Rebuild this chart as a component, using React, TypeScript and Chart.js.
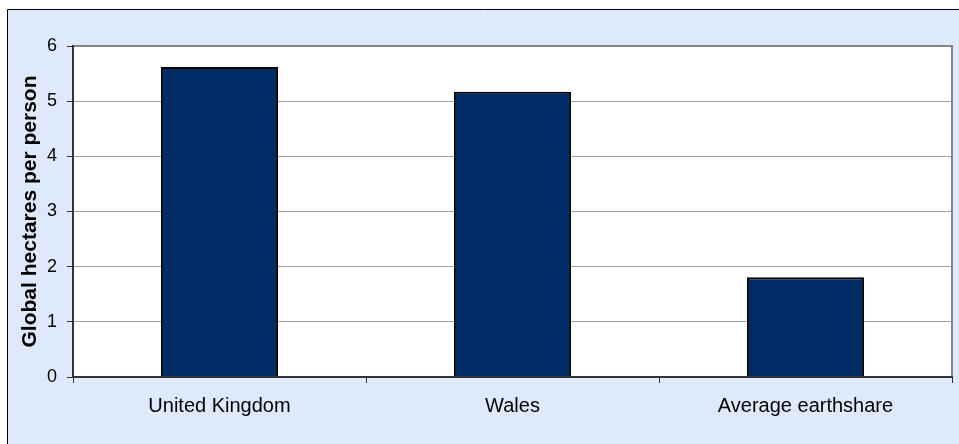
import React, { useEffect, useRef } from "react";
import { Chart, registerables } from "chart.js";

Chart.register(...registerables);

const categories = ["United Kingdom", "Wales", "Average earthshare"];
const values = [5.62, 5.17, 1.81];
const yTicks = [0, 1, 2, 3, 4, 5, 6];
const yTitle = "Global hectares per person";

const FONT = "'Liberation Sans', Arial, Helvetica, sans-serif";

const backgroundPlugin = {
  id: "bgPlugin",
  beforeDraw(chart: any) {
    const { ctx, width, height, chartArea } = chart;
    ctx.save();
    ctx.fillStyle = "#ffffff";
    ctx.fillRect(0, 0, width, height);
    ctx.fillStyle = "#DEEAFB";
    ctx.fillRect(8, 10, width - 8, height - 10);
    ctx.strokeStyle = "#000000";
    ctx.lineWidth = 1;
    ctx.beginPath();
    ctx.moveTo(7.5, height);
    ctx.lineTo(7.5, 9.5);
    ctx.lineTo(width, 9.5);
    ctx.stroke();
    ctx.fillStyle = "#ffffff";
    ctx.fillRect(
      chartArea.left,
      chartArea.top,
      chartArea.right - chartArea.left,
      chartArea.bottom - chartArea.top
    );
    ctx.restore();
  },
  afterDatasetsDraw(chart: any) {
    const { ctx, chartArea } = chart;
    const { left, right, top, bottom } = chartArea;
    ctx.save();
    ctx.lineWidth = 2;
    ctx.strokeStyle = "#858585";
    ctx.beginPath();
    ctx.moveTo(left, top);
    ctx.lineTo(right, top);
    ctx.lineTo(right, bottom);
    ctx.stroke();
    ctx.strokeStyle = "#333333";
    ctx.beginPath();
    ctx.moveTo(left, top - 1);
    ctx.lineTo(left, bottom);
    ctx.lineTo(right + 1, bottom);
    ctx.stroke();
    ctx.restore();
  },
};

export default function App() {
  const ref = useRef<HTMLCanvasElement | null>(null);

  useEffect(() => {
    if (!ref.current) return;
    const chart = new Chart(ref.current, {
      type: "bar",
      data: {
        labels: categories,
        datasets: [
          {
            data: values,
            backgroundColor: "#012B64",
            borderColor: "#000000",
            borderWidth: 2,
            barPercentage: 0.4,
            categoryPercentage: 1,
          },
        ],
      },
      options: {
        animation: false,
        responsive: false,
        layout: { padding: { left: 0, top: 46, right: 7, bottom: 0 } },
        plugins: {
          legend: { display: false },
          tooltip: { enabled: false },
        },
        scales: {
          x: {
            grid: {
              offset: true,
              drawOnChartArea: false,
              drawTicks: true,
              tickLength: 6,
              color: "#333333",
              tickColor: "#333333",
            },
            border: { display: false },
            ticks: {
              color: "#000000",
              padding: 11,
              font: { family: FONT, size: 20 },
              maxRotation: 0,
            },
            afterFit: (s: any) => {
              s.height = 67;
            },
          },
          y: {
            min: 0,
            max: 6,
            afterBuildTicks: (s: any) => {
              s.ticks = yTicks.map((v) => ({ value: v }));
            },
            grid: {
              color: "#A0A0A0",
              lineWidth: 1,
              drawTicks: true,
              tickLength: 6,
              tickColor: "#333333",
            },
            border: { display: false },
            ticks: {
              color: "#000000",
              padding: 10,
              font: { family: FONT, size: 18 },
            },
            title: {
              display: true,
              text: yTitle,
              color: "#000000",
              font: { family: FONT, size: 21, weight: "bold" },
              padding: { top: 18, bottom: 0 },
            },
            afterFit: (s: any) => {
              s.width = 73;
            },
          },
        },
      },
      plugins: [backgroundPlugin],
    });
    return () => chart.destroy();
  }, []);

  return (
    <canvas
      ref={ref}
      width={959}
      height={444}
      style={{ position: "fixed", left: 0, top: 0, display: "block" }}
    />
  );
}
